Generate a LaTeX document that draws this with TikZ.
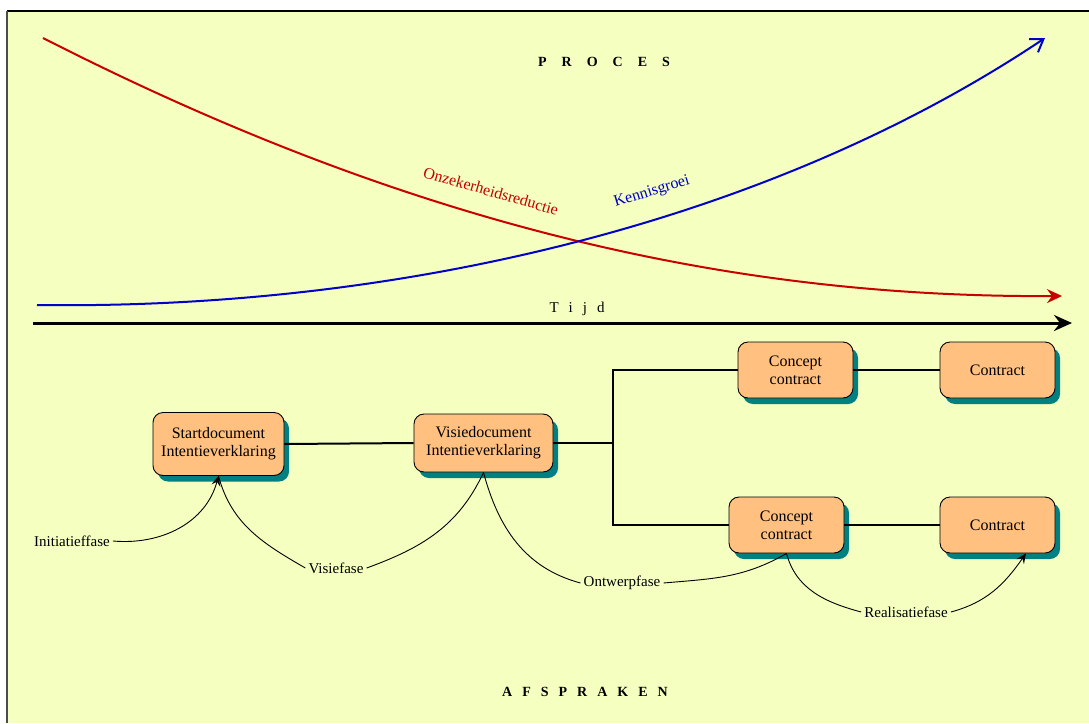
\documentclass[tikz,border=0pt]{standalone}
\usepackage{fontspec}
\setmainfont{Liberation Serif}
\usepackage{xcolor}
\usepackage{tikz}
\usetikzlibrary{arrows.meta}
\usetikzlibrary{shadows}

\definecolor{papier}{RGB}{245,255,192}
\definecolor{fasevul}{RGB}{255,192,128}
\definecolor{faseschaduw}{RGB}{0,128,128}
\definecolor{onzrood}{RGB}{200,0,0}
\definecolor{kennisblauw}{RGB}{0,0,200}

\tikzset{
    fase/.style = {draw = black, fill = fasevul, rounded corners = 10pt, line width = 0.9pt,
        align = center, minimum width = 115pt, minimum height = 56pt, inner sep = 2pt,
        font = \fontsize{16}{18}\selectfont,
        drop shadow = {shadow xshift = 5pt, shadow yshift = -6pt, fill = faseschaduw, opacity = 1}},
    fasetekst/.style = {font = \fontsize{15}{17}\selectfont, inner sep = 3pt},
    kop/.style = {font = \fontsize{14}{16}\selectfont\bfseries},
    verbind/.style = {line width = 2pt},
    boog/.style = {line width = 0.9pt},
    pijlkop/.style = {-{Stealth[length = 10pt, width = 9pt, inset = 4pt]}}
}

\begin{document}
\begin{tikzpicture}[x = 1pt, y = 1pt]
        \useasboundingbox (0, 0) rectangle (1089, -723);
        \fill[papier] (7, -11) rectangle (1089, -723);
        \draw[line width = 1.2pt] (1089, -11) -- (7, -11);
        \draw[gray!60!black, line width = 1.5pt] (7, -11) -- (7, -723);

        \node[kop] (proces) at (604, -62) {\spaceskip=15pt P R O C E S};
        \node[kop] (afspraken) at (585, -692) {\spaceskip=10pt A F S P R A K E N};

        \coordinate (onzbegin) at (43, -38);
        \coordinate (onzeind) at (1062, -296);
        \coordinate (kenbegin) at (37, -305);
        \coordinate (keneind) at (1045, -38);
        \coordinate (tijdbegin) at (33, -323);
        \coordinate (tijdeind) at (1072, -323);

        \draw[onzrood, line width = 2pt, -{Stealth[length = 15pt, width = 14pt, inset = 5pt]}]
            (onzbegin) .. controls (400, -220) and (720, -298) .. (onzeind);
        \draw[kennisblauw, line width = 2pt, -{Straight Barb[length = 12pt, width = 16pt]}]
            (kenbegin) .. controls (400, -310) and (770, -222) .. (keneind);
        \draw[line width = 3pt, -{Stealth[length = 18pt, width = 16pt, inset = 6pt]}] (tijdbegin) -- (tijdeind);

        \node[text = onzrood, rotate = -16, font = \fontsize{16}{18}\selectfont] (onzekerheid) at (491, -191) {Onzekerheidsreductie};
        \node[text = kennisblauw, rotate = 17, font = \fontsize{16}{18}\selectfont] (kennis) at (652, -192) {Kennisgroei};
        \node[fasetekst] (tijd) at (577, -309) {\spaceskip=10pt T i j d};

        \node[fase, minimum width = 131pt, minimum height = 63pt] (start) at (218.5, -444) {Startdocument\\Intentieverklaring};
        \node[fase, minimum width = 139pt, minimum height = 58pt] (visie) at (483.5, -443) {Visiedocument\\Intentieverklaring};
        \node[fase] (conceptA) at (795.5, -370) {Concept\\contract};
        \node[fase] (contractA) at (997.5, -370) {Contract};
        \node[fase] (conceptB) at (786.5, -525) {Concept\\contract};
        \node[fase] (contractB) at (997.5, -525) {Contract};

        \coordinate (splitsing) at (613, -443);
        \draw[verbind] (start.east) -- (visie.west);
        \draw[verbind] (visie.east) -- (splitsing);
        \draw[verbind] (conceptA.west) -| (splitsing) |- (conceptB.west);
        \draw[verbind] (conceptA) -- (contractA);
        \draw[verbind] (conceptB) -- (contractB);

        \node[fasetekst] (initiatie) at (72, -541) {Initiatieffase};
        \node[fasetekst] (visiefase) at (336, -568) {Visiefase};
        \node[fasetekst] (ontwerp) at (622, -583) {Ontwerpfase};
        \node[fasetekst] (realisatie) at (906, -612) {Realisatiefase};

        \draw[boog, pijlkop] (initiatie.east) to[out = -5, in = -105] (start.south);
        \draw[boog] (start.south) to[out = -75, in = 150] (visiefase.west);
        \draw[boog] (visiefase.east) to[out = 20, in = -115] (visie.south);
        \draw[boog] (visie.south) to[out = -75, in = 165] (ontwerp.west);
        \draw[boog] (ontwerp.east) to[out = 5, in = -150] (conceptB.south);
        \draw[boog] (conceptB.south) to[out = -75, in = 165] (realisatie.west);
        \draw[boog, pijlkop] (realisatie.east) to[out = 15, in = -125] (contractB.-45);
    \end{tikzpicture}
\end{document}
